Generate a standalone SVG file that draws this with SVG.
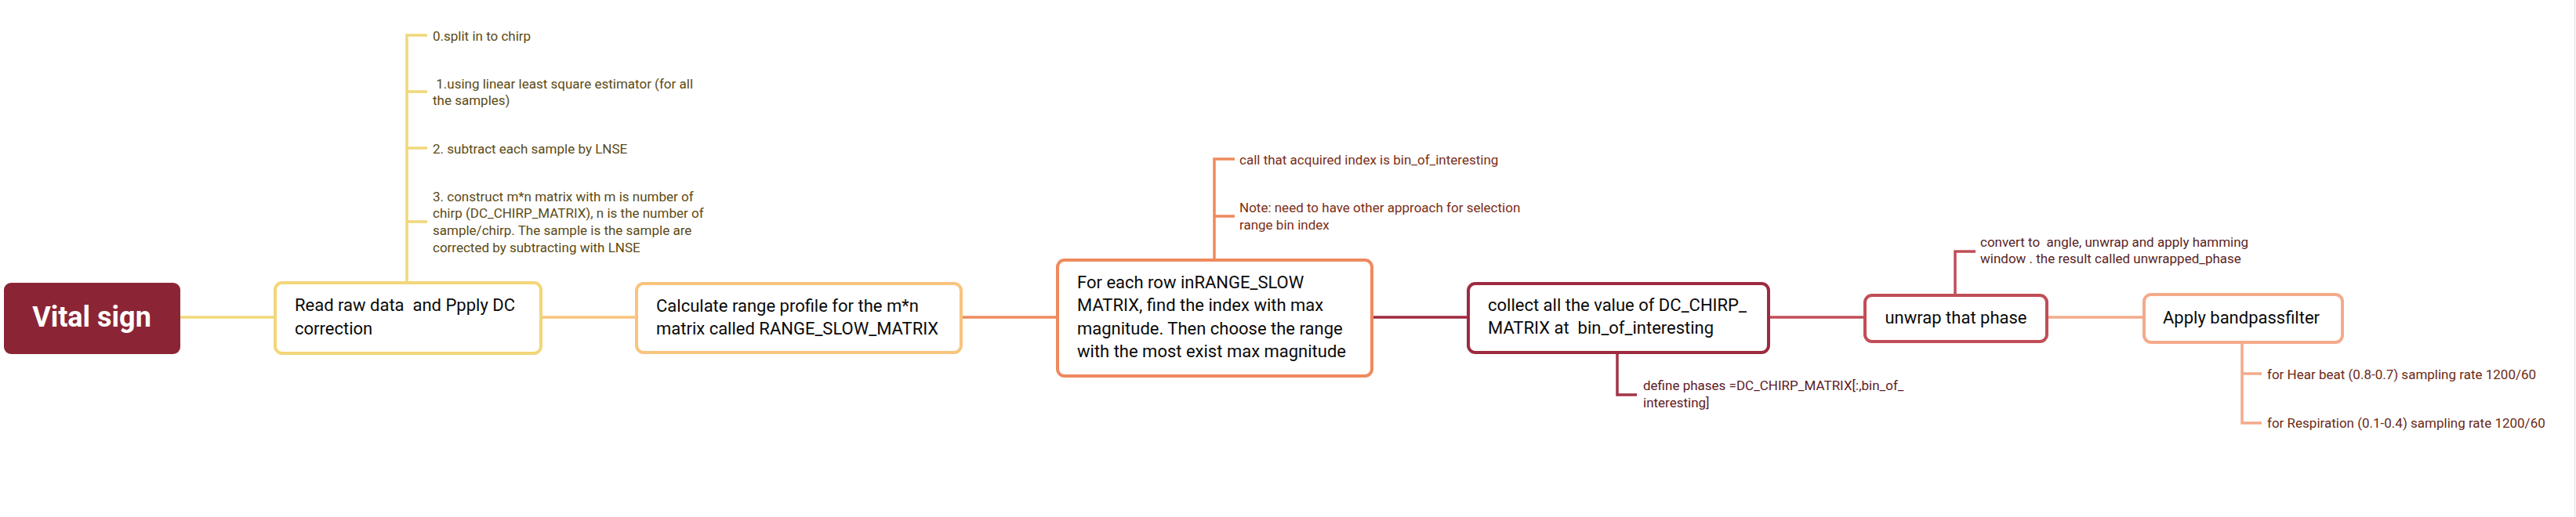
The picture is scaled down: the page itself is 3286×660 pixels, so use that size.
<svg xmlns="http://www.w3.org/2000/svg" width="3286" height="660" viewBox="0 0 3286 660">
<style>
.node{fill:#fff;stroke-width:4}
.nt{font-family:Roboto,"Liberation Sans",sans-serif;font-size:22px;font-weight:400;fill:#0a0a0a;white-space:pre}
.at{font-family:Roboto,"Liberation Sans",sans-serif;font-size:17px;white-space:pre}
.c{fill:none;stroke-width:3.5}
</style>
<rect width="3286" height="660" fill="#fff"/>
<line x1="3284.5" y1="0" x2="3284.5" y2="660" stroke="#e6e6e6" stroke-width="1.5"/>
<g id="connectors">
  <line class="c" x1="230" y1="405" x2="351" y2="405" stroke="#F0D77A"/>
  <line class="c" x1="690" y1="405" x2="812" y2="405" stroke="#F8C47E"/>
  <line class="c" x1="1226" y1="405" x2="1349" y2="405" stroke="#EE8A5E"/>
  <line class="c" x1="1750" y1="405" x2="1873" y2="405" stroke="#9E2A40"/>
  <line class="c" x1="2256" y1="405" x2="2379" y2="405" stroke="#C04E58"/>
  <line class="c" x1="2611" y1="405" x2="2735" y2="405" stroke="#F4AA8A"/>
  <path class="c" d="M519 361 V45 H545 M519 117 H545 M519 189 H545 M519 283 H545" stroke="#F0D77A"/>
  <path class="c" d="M1549 332 V203 H1575 M1549 276 H1575" stroke="#EE8A5E"/>
  <path class="c" d="M2063 450 V504 H2088" stroke="#A33447"/>
  <path class="c" d="M2494 377 V321 H2520" stroke="#C04E58"/>
  <path class="c" d="M2860 437 V540 H2885 M2860 477 H2885" stroke="#F4AA8A"/>
</g>
<g id="vital">
  <rect x="5" y="361" width="225" height="91" rx="9" fill="#8B2535"/>
  <text x="117" y="417" text-anchor="middle" font-family="Roboto,'Liberation Sans',sans-serif" font-size="36" font-weight="bold" fill="#fff">Vital sign</text>
</g>
<g id="node1">
  <rect class="node" x="351" y="361" width="339" height="90" rx="9" stroke="#F2D679"/>
  <text class="nt" x="376" y="397">Read raw data  and Ppply DC</text>
  <text class="nt" x="376" y="427">correction</text>
</g>
<g id="note1" fill="#5C4A14">
  <text class="at" x="552" y="52">0.split in to chirp</text>
  <text class="at" x="552" y="113"> 1.using linear least square estimator (for all</text>
  <text class="at" x="552" y="134">the samples)</text>
  <text class="at" x="552" y="196">2. subtract each sample by LNSE</text>
  <text class="at" x="552" y="257">3. construct m*n matrix with m is number of</text>
  <text class="at" x="552" y="278">chirp (DC_CHIRP_MATRIX), n is the number of</text>
  <text class="at" x="552" y="300">sample/chirp. The sample is the sample are</text>
  <text class="at" x="552" y="322">corrected by subtracting with LNSE</text>
</g>
<g id="node2">
  <rect class="node" x="812" y="362" width="414" height="88" rx="9" stroke="#F8C47E"/>
  <text class="nt" x="837" y="398">Calculate range profile for the m*n</text>
  <text class="nt" x="837" y="427">matrix called RANGE_SLOW_MATRIX</text>
</g>
<g id="node3">
  <rect class="node" x="1349" y="332" width="401" height="148" rx="9" stroke="#EE8A5E"/>
  <text class="nt" x="1374" y="368">For each row inRANGE_SLOW</text>
  <text class="nt" x="1374" y="397">MATRIX, find the index with max</text>
  <text class="nt" x="1374" y="427">magnitude. Then choose the range</text>
  <text class="nt" x="1374" y="456">with the most exist max magnitude</text>
</g>
<g id="note3" fill="#7B2E16">
  <text class="at" x="1581" y="210">call that acquired index is bin_of_interesting</text>
  <text class="at" x="1581" y="271">Note: need to have other approach for selection</text>
  <text class="at" x="1581" y="293">range bin index</text>
</g>
<g id="node4">
  <rect class="node" x="1873" y="362" width="383" height="88" rx="9" stroke="#9E2A40"/>
  <text class="nt" x="1898" y="397">collect all the value of DC_CHIRP_</text>
  <text class="nt" x="1898" y="426">MATRIX at  bin_of_interesting</text>
</g>
<g id="note4" fill="#5E1A25">
  <text class="at" x="2096" y="498">define phases =DC_CHIRP_MATRIX[:,bin_of_</text>
  <text class="at" x="2096" y="520">interesting]</text>
</g>
<g id="node5">
  <rect class="node" x="2379" y="377" width="232" height="59" rx="9" stroke="#C04E58"/>
  <text class="nt" x="2495" y="413" text-anchor="middle">unwrap that phase</text>
</g>
<g id="note5" fill="#5A1F25">
  <text class="at" x="2526" y="315">convert to  angle, unwrap and apply hamming</text>
  <text class="at" x="2526" y="336">window . the result called unwrapped_phase</text>
</g>
<g id="node6">
  <rect class="node" x="2735" y="376" width="253" height="61" rx="9" stroke="#F4AA8A"/>
  <text class="nt" x="2759" y="413">Apply bandpassfilter</text>
</g>
<g id="note6" fill="#6B2A15">
  <text class="at" x="2892" y="484">for Hear beat (0.8-0.7) sampling rate 1200/60</text>
  <text class="at" x="2892" y="546">for Respiration (0.1-0.4) sampling rate 1200/60</text>
</g>
</svg>
